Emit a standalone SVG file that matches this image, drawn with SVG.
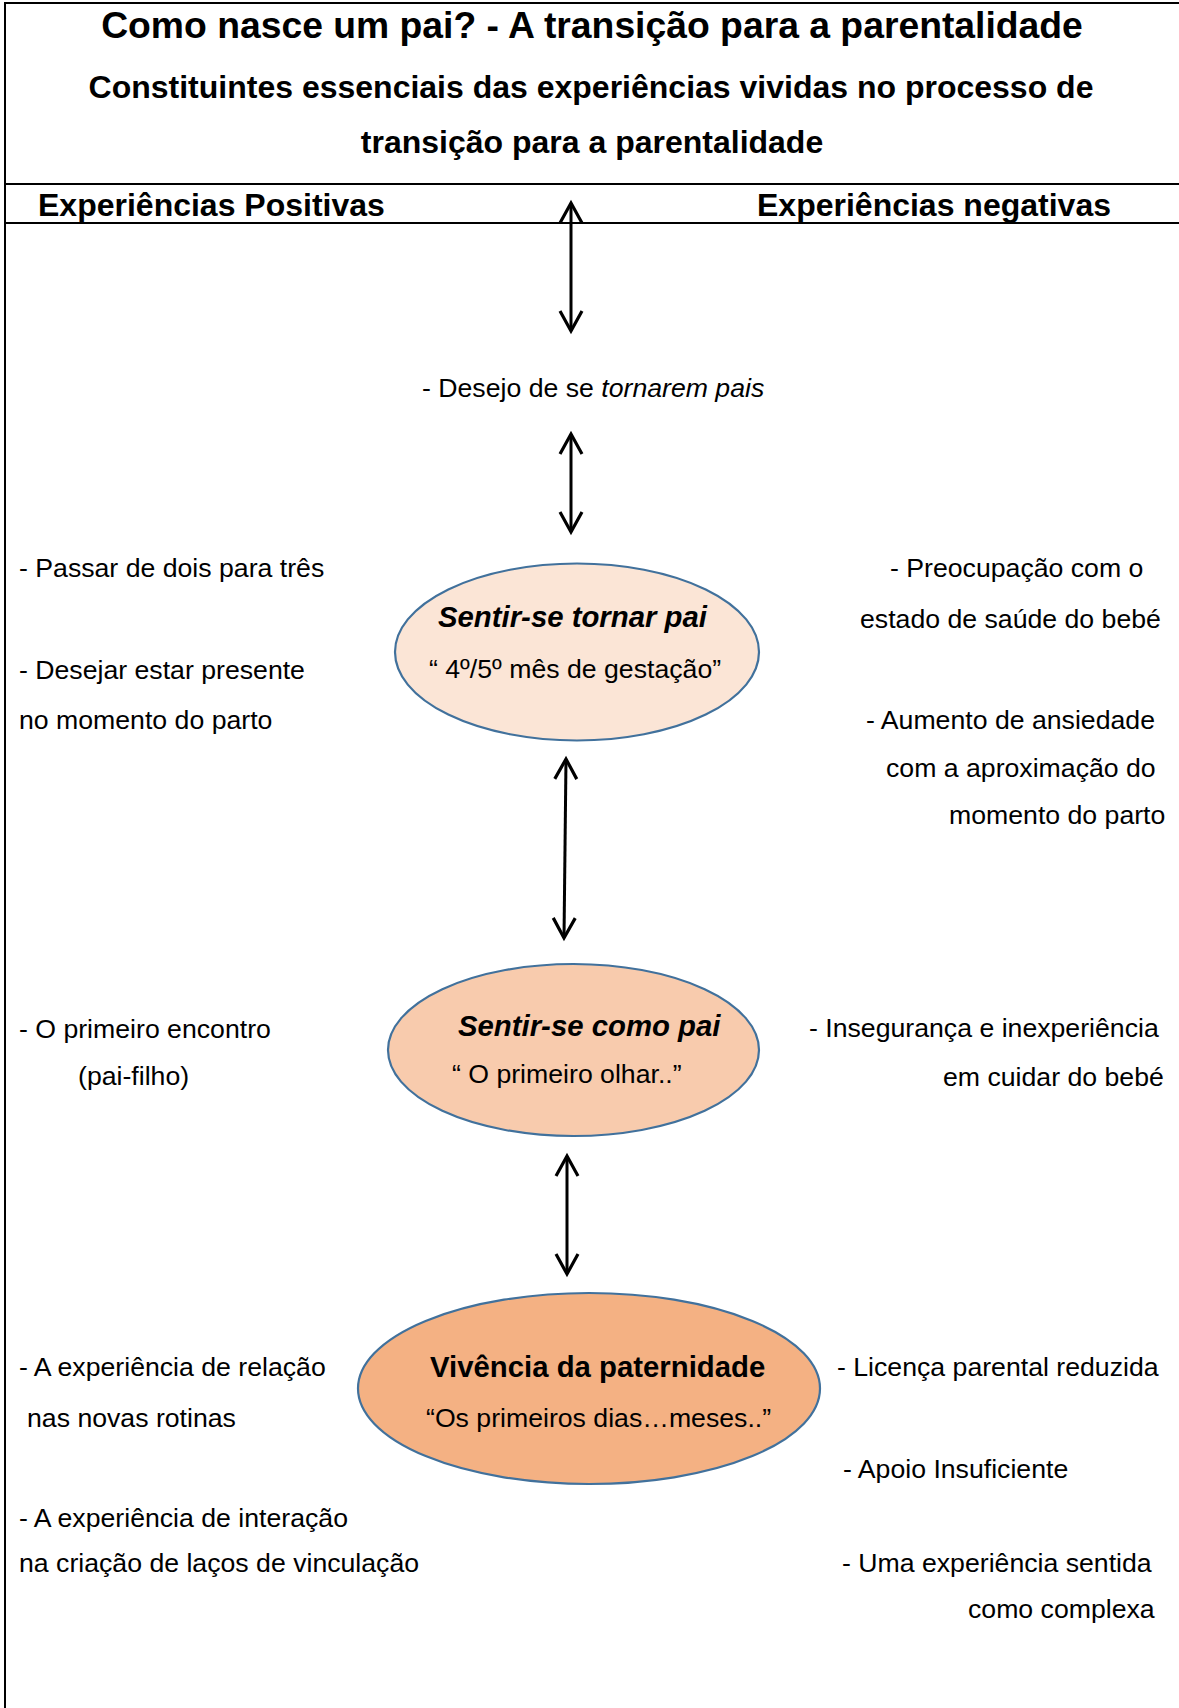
<svg xmlns="http://www.w3.org/2000/svg" width="1179" height="1708" viewBox="0 0 1179 1708">
<defs>
<style>
text{font-family:"Liberation Sans",Arial,sans-serif;fill:#000}
.t1{font-size:37.3px;font-weight:bold}
.t2{font-size:32px;font-weight:bold}
.b{font-size:26.67px}
.n{font-size:29.33px;font-weight:bold}
.frame{stroke:#000;stroke-width:2;fill:none}
.ell{stroke:#41719C;stroke-width:2.2}
.arr{stroke:#000;stroke-width:3;fill:none}
</style>
<marker id="ah" markerUnits="userSpaceOnUse" viewBox="-24 -14 28 28" markerWidth="28" markerHeight="28" refX="0" refY="0" orient="auto-start-reverse">
<path d="M-20,-11 L0,0 L-20,11" fill="none" stroke="#000" stroke-width="3.2" stroke-linejoin="miter"/>
</marker>
</defs>
<rect width="1179" height="1708" fill="#fff"/>
<g id="frame">
<line class="frame" x1="5" y1="3" x2="1179" y2="3"/>
<line class="frame" x1="5" y1="2" x2="5" y2="1708"/>
<line class="frame" x1="5" y1="184" x2="1179" y2="184"/>
<line class="frame" x1="5" y1="223" x2="1179" y2="223"/>
</g>
<g id="header">
<text class="t1" x="592" y="38" text-anchor="middle">Como nasce um pai? - A transição para a parentalidade</text>
<text class="t2" x="591" y="98" text-anchor="middle">Constituintes essenciais das experiências vividas no processo de</text>
<text class="t2" x="592" y="153" text-anchor="middle">transição para a parentalidade</text>
<text class="t2" x="38" y="216">Experiências Positivas</text>
<text class="t2" x="757" y="216">Experiências negativas</text>
</g>
<g id="connectors">
<line class="arr" x1="571" y1="203" x2="571" y2="331" marker-start="url(#ah)" marker-end="url(#ah)"/>
<line class="arr" x1="571" y1="434" x2="571" y2="532" marker-start="url(#ah)" marker-end="url(#ah)"/>
<line class="arr" x1="566" y1="759" x2="564" y2="938" marker-start="url(#ah)" marker-end="url(#ah)"/>
<line class="arr" x1="567" y1="1156" x2="567" y2="1274" marker-start="url(#ah)" marker-end="url(#ah)"/>
</g>
<g id="desejo">
<text class="b" x="422" y="397">- Desejo de se <tspan font-style="italic">tornarem pais</tspan></text>
</g>
<g id="node-tornar">
<ellipse class="ell" cx="577" cy="652" rx="182" ry="88.5" fill="#FBE5D6"/>
<text class="n" x="438" y="627" font-style="italic">Sentir-se tornar pai</text>
<text class="b" x="429" y="678">“ 4º/5º mês de gestação”</text>
</g>
<g id="node-como">
<ellipse class="ell" cx="573.5" cy="1050" rx="185.5" ry="86" fill="#F8CBAD"/>
<text class="n" x="458" y="1036" font-style="italic">Sentir-se como pai</text>
<text class="b" x="452" y="1083">“ O primeiro olhar..”</text>
</g>
<g id="node-vivencia">
<ellipse class="ell" cx="589" cy="1388.5" rx="231" ry="95.5" fill="#F4B183"/>
<text class="n" x="430" y="1377">Vivência da paternidade</text>
<text class="b" x="426" y="1427">“Os primeiros dias…meses..”</text>
</g>
<g id="positivas">
<text class="b" x="19" y="577">- Passar de dois para três</text>
<text class="b" x="19" y="679">- Desejar estar presente</text>
<text class="b" x="19" y="729">no momento do parto</text>
<text class="b" x="19" y="1038">- O primeiro encontro</text>
<text class="b" x="78" y="1085">(pai-filho)</text>
<text class="b" x="19" y="1376">- A experiência de relação</text>
<text class="b" x="27" y="1427">nas novas rotinas</text>
<text class="b" x="19" y="1527">- A experiência de interação</text>
<text class="b" x="19" y="1572">na criação de laços de vinculação</text>
</g>
<g id="negativas">
<text class="b" x="890" y="577">- Preocupação com o</text>
<text class="b" x="860" y="628">estado de saúde do bebé</text>
<text class="b" x="866" y="729">- Aumento de ansiedade</text>
<text class="b" x="886" y="777">com a aproximação do</text>
<text class="b" x="949" y="824">momento do parto</text>
<text class="b" x="809" y="1037">- Insegurança e inexperiência</text>
<text class="b" x="943" y="1086">em cuidar do bebé</text>
<text class="b" x="837" y="1376">- Licença parental reduzida</text>
<text class="b" x="843" y="1478">- Apoio Insuficiente</text>
<text class="b" x="842" y="1572">- Uma experiência sentida</text>
<text class="b" x="968" y="1618">como complexa</text>
</g>
</svg>
